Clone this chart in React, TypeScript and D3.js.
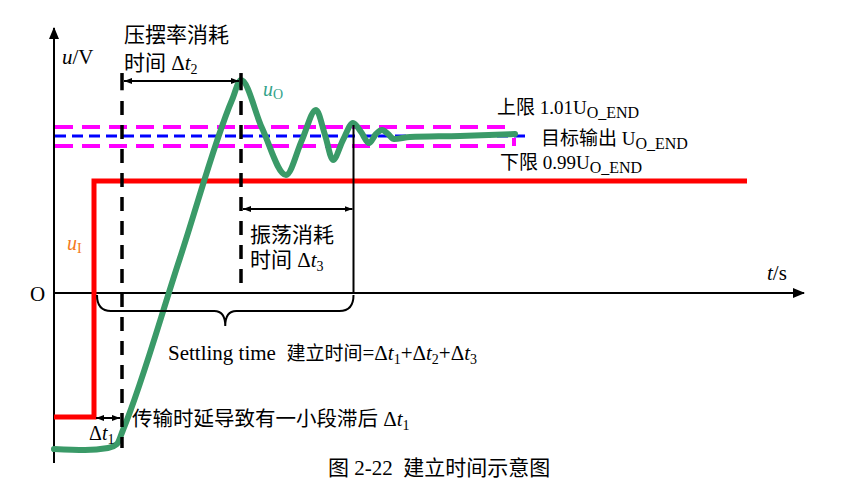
import React from 'react';
import * as d3 from 'd3';

const W = 841;
const H = 487;

// Schematic units: time t (arbitrary), voltage u (input step high = 1)
const inputT = [0, 4, 4, 69.3];
const inputU = [-1.107, -1.107, 1, 1];

const outputT = [0, 3.1, 5.4, 6.3, 6.9, 12.6, 17.8, 18.7, 20.8, 23.2, 24.8, 26.2, 27.1, 27.9, 28.9, 29.9, 30.7, 31.5, 32.2, 32.8, 33.4, 34.0, 35.6, 40.6, 46.1];
const outputU = [-1.393, -1.402, -1.384, -1.348, -1.223, 0.3125, 1.723, 1.902, 1.473, 1.054, 1.366, 1.634, 1.411, 1.188, 1.366, 1.518, 1.438, 1.339, 1.42, 1.455, 1.42, 1.375, 1.393, 1.402, 1.42];

const targetU = 1.402;
const upperU = 1.482;
const lowerU = 1.3125;
const bandEndT = 45.8;
const targetEndT = 47.3;

const tStep = 4;
const tDelay = 6.8;
const tPeak = 18.7;
const tSettle = 29.95;
const settlePeakU = 1.5;

const tAxisMax = 75;
const uAxisMax = 2.366;
const uAxisMin = -1.518;

const FONT = '"Liberation Serif", "Times New Roman", "Noto Sans CJK SC", serif';

const x = d3.scaleLinear().domain([0, tAxisMax]).range([54, 804]);
const y = d3.scaleLinear().domain([0, 1]).range([293, 181]);

const Sub = ({ children, size = 16 }: { children: React.ReactNode; size?: number }) => (
  <tspan fontSize={size} dy={4}>{children}</tspan>
);

const C = ({ children, size }: { children: React.ReactNode; size: number }) => (
  <tspan fontSize={size}>{children}</tspan>
);

const DeltaT = ({ n, sub = 14 }: { n: string; sub?: number }) => (
  <>
    <tspan>Δ</tspan>
    <tspan fontStyle="italic">t</tspan>
    <tspan fontSize={sub} dy={4}>{n}</tspan>
  </>
);

const pre = { whiteSpace: 'pre' as const };

export default function App() {
  const redLine = d3.line<number>()
    .x((_, i) => x(inputT[i]))
    .y((_, i) => y(inputU[i]))(inputT.map((_, i) => i)) as string;

  const greenLine = d3.line<number>()
    .x((_, i) => x(outputT[i]))
    .y((_, i) => y(outputU[i]))
    .curve(d3.curveMonotoneX)(outputT.map((_, i) => i)) as string;

  const x0 = x(0);
  const yAxis0 = y(0);

  // brace
  const bL = x(tStep) + 3;
  const bR = x(tSettle);
  const bM = (bL + bR) / 2;
  const bTop = yAxis0 + 2;
  const bMid = yAxis0 + 18;
  const bTip = yAxis0 + 33;
  const r = 14;
  const brace = `M ${bL} ${bTop} Q ${bL} ${bMid} ${bL + r} ${bMid} L ${bM - 11} ${bMid} Q ${bM} ${bMid} ${bM} ${bTip} Q ${bM} ${bMid} ${bM + 11} ${bMid} L ${bR - r} ${bMid} Q ${bR} ${bMid} ${bR} ${bTop}`;

  const yLow = y(inputU[0]);
  const yDt2 = y(1.893);
  const yDt3 = y(0.75);

  return (
    <svg width={W} height={H} style={{ position: 'absolute', left: 0, top: 0, background: '#fff' }} fontFamily={FONT}>
      <defs>
        <marker id="axArrow" viewBox="0 0 12 10" refX="11" refY="5" markerWidth="12" markerHeight="10" markerUnits="userSpaceOnUse" orient="auto">
          <path d="M0,0 L12,5 L0,10 Z" fill="#000" />
        </marker>
        <marker id="smArrow" viewBox="0 0 8 6" refX="8" refY="3" markerWidth="8" markerHeight="6" markerUnits="userSpaceOnUse" orient="auto-start-reverse">
          <path d="M0,0 L8,3 L0,6 Z" fill="#000" />
        </marker>
      </defs>

      {/* axes */}
      <line x1={x0} y1={y(uAxisMin)} x2={x0} y2={y(uAxisMax)} stroke="#000" strokeWidth={2} markerEnd="url(#axArrow)" />
      <line x1={x0} y1={yAxis0} x2={x(tAxisMax)} y2={yAxis0} stroke="#000" strokeWidth={2} markerEnd="url(#axArrow)" />

      {/* tolerance band and target */}
      <line x1={x0 + 1} x2={x(bandEndT)} y1={y(upperU)} y2={y(upperU)} stroke="#ff00ff" strokeWidth={4} strokeDasharray="18 9" />
      <path d={`M ${x0 + 1} ${y(lowerU)} H ${x(bandEndT) + 2} V ${y(targetU) + 2}`} fill="none" stroke="#ff00ff" strokeWidth={4} strokeDasharray="18 9" />
      <line x1={x0 + 1} x2={x(targetEndT)} y1={y(targetU)} y2={y(targetU)} stroke="#0000ff" strokeWidth={3} strokeDasharray="11 6" />

      {/* input step */}
      <path d={redLine} fill="none" stroke="#ff0000" strokeWidth={5} />

      {/* output */}
      <path d={greenLine} fill="none" stroke="#3a9a68" strokeWidth={6} strokeLinecap="round" strokeLinejoin="round" />

      {/* dashed marker lines */}
      <line x1={x(tDelay)} x2={x(tDelay)} y1={y(1.964)} y2={y(1.81)} stroke="#000" strokeWidth={3.5} />
      <line x1={x(tDelay)} x2={x(tDelay)} y1={y(1.714)} y2={y(-1.384)} stroke="#000" strokeWidth={3.5} strokeDasharray="14 10" />
      <line x1={x(tPeak)} x2={x(tPeak)} y1={y(1.964)} y2={y(1.81)} stroke="#000" strokeWidth={3.5} />
      <line x1={x(tPeak)} x2={x(tPeak)} y1={y(1.714)} y2={yAxis0} stroke="#000" strokeWidth={3.5} strokeDasharray="14 10" />

      {/* settle line */}
      <line x1={x(tSettle)} x2={x(tSettle)} y1={y(settlePeakU)} y2={yAxis0} stroke="#000" strokeWidth={2} />

      {/* arrows */}
      <line x1={x(tDelay) + 2} x2={x(tPeak) - 2} y1={yDt2} y2={yDt2} stroke="#000" strokeWidth={2} markerStart="url(#smArrow)" markerEnd="url(#smArrow)" />
      <line x1={x(tPeak) + 2} x2={x(tSettle) - 1} y1={yDt3} y2={yDt3} stroke="#000" strokeWidth={2} markerStart="url(#smArrow)" markerEnd="url(#smArrow)" />
      <line x1={x(tStep) + 2} x2={x(tDelay) - 2} y1={yLow + 1} y2={yLow + 1} stroke="#000" strokeWidth={2} markerStart="url(#smArrow)" markerEnd="url(#smArrow)" />

      {/* brace */}
      <path d={brace} fill="none" stroke="#000" strokeWidth={2} />

      {/* texts */}
      <text x={62} y={64} fontSize={21}><tspan fontStyle="italic">u</tspan>/V</text>
      <text x={30} y={301} fontSize={21}>O</text>
      <text x={767} y={280} fontSize={21}><tspan fontStyle="italic">t</tspan>/s</text>

      <text x={124} y={42} fontSize={21}>压摆率消耗</text>
      <text x={124} y={70} fontSize={21} style={pre}>时间 <DeltaT n="2" /></text>

      <text x={263} y={96} fontSize={20} fill="#33a38a"><tspan fontStyle="italic">u</tspan><tspan fontSize={14} dy={3}>O</tspan></text>
      <text x={67} y={250} fontSize={20} fill="#f47a20"><tspan fontStyle="italic">u</tspan><tspan fontSize={14} dy={3}>I</tspan></text>

      <text x={497} y={114} fontSize={19} style={pre}>上限 1.01U<Sub>O_END</Sub></text>
      <text x={541} y={145} fontSize={19} style={pre}>目标输出 U<Sub>O_END</Sub></text>
      <text x={500} y={169} fontSize={19} style={pre}>下限 0.99U<Sub>O_END</Sub></text>

      <text x={250} y={242} fontSize={21}>振荡消耗</text>
      <text x={250} y={267} fontSize={21} style={pre}>时间 <DeltaT n="3" /></text>

      <text x={89} y={440} fontSize={20}><DeltaT n="1" /></text>
      <text x={132} y={426} fontSize={21} style={pre}><C size={20.5}>传输时延导致有一小段滞后</C> <DeltaT n="1" /></text>

      <text x={168} y={360} fontSize={21} style={pre}>
        Settling time  <C size={19}>建立时间</C>=<DeltaT n="1" /><tspan dy={-4}>+</tspan><DeltaT n="2" /><tspan dy={-4}>+</tspan><DeltaT n="3" />
      </text>

      <text x={328} y={475} fontSize={21} style={pre}>图 2-22  建立时间示意图</text>
    </svg>
  );
}
